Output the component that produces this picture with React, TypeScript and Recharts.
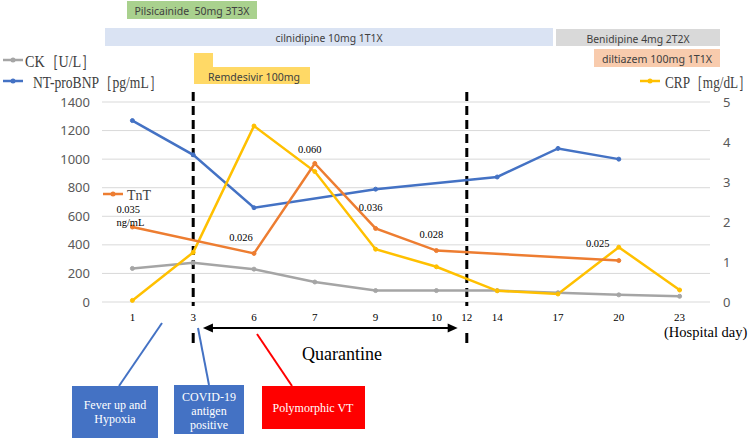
import React from 'react';
import { LineChart, Line, XAxis, YAxis, CartesianGrid, ReferenceLine, LabelList } from 'recharts';

// hospital days shown as categories on the x axis
const days = ['1', '3', '6', '7', '9', '10', '14', '17', '20', '23'];
const quarantineStartDay = '3';
const quarantineEndDay = '12'; // falls between day 10 and day 14

// left axis (CK, NT-proBNP, TnT drawn on the same scale)
const ck = [235, 275, 230, 140, 80, 80, 80, 65, 50, 40];
const ntProBnp = [1270, 1030, 660, null, 790, null, 875, 1075, 1000, null];
const tnt = [525, null, 340, 970, 515, 360, null, null, 290, null];
const tntLabels = ['0.035', null, '0.026', '0.060', '0.036', '0.028', null, null, '0.025', null];

// right axis
const crp = [0.04, 1.24, 4.4, 3.26, 1.32, 0.88, 0.28, 0.2, 1.37, 0.3];

const leftTicks = [0, 200, 400, 600, 800, 1000, 1200, 1400];
const rightTicks = [0, 1, 2, 3, 4, 5];

const startPos = days.indexOf(quarantineStartDay);
const endPos = (days.indexOf('10') + days.indexOf('14')) / 2;
const xTicks = [...days.map((_, i) => i), endPos].sort((a, b) => a - b);

const data = days.map((d, i) => ({
  pos: i,
  day: d,
  ck: ck[i],
  bnp: ntProBnp[i],
  tnt: tnt[i],
  tntLabel: tntLabels[i],
  crp: crp[i],
}));

const COLORS = {
  ck: '#a5a5a5',
  bnp: '#4472c4',
  tnt: '#ed7d31',
  crp: '#ffc000',
};

const SERIF = '"Liberation Serif", "Times New Roman", serif';
const SANS = '"Noto Sans", "Liberation Sans", sans-serif';

// label placement relative to each TnT point
const tntLabelOffset: Record<string, [number, number]> = {
  '0.026': [-13, -16],
  '0.060': [-5, -14],
  '0.036': [-5, -21],
  '0.028': [-5, -16],
  '0.025': [-21, -17],
};

const TntLabel = (props: any) => {
  const { x, y, value } = props;
  if (!value) return null;
  if (value === '0.035') {
    return (
      <g fontFamily={SERIF} fontSize={10.5} fill="#000">
        <text x={x - 16} y={y - 18} dominantBaseline="central">{value}</text>
        <text x={x - 16} y={y - 5} dominantBaseline="central">ng/mL</text>
      </g>
    );
  }
  const [dx, dy] = tntLabelOffset[value] ?? [0, -14];
  return (
    <text x={x + dx} y={y + dy} textAnchor="middle" dominantBaseline="central"
      fontFamily={SERIF} fontSize={10.5} fill="#000">
      {value}
    </text>
  );
};

const DashedMarker = (p: any) => {
  const top = Math.min(p.y1, p.y2);
  const bottom = Math.max(p.y1, p.y2);
  return (
    <g>
      <line x1={p.x1} x2={p.x1} y1={top - 10} y2={bottom + 4} stroke="#000" strokeWidth={3} strokeDasharray="9 5" />
      <line x1={p.x1} x2={p.x1} y1={bottom + 31} y2={bottom + 41} stroke="#000" strokeWidth={3} />
    </g>
  );
};

const DoubleArrow = (p: any) => {
  const xa = Math.min(p.x1, p.x2);
  const xb = Math.max(p.x1, p.x2);
  const y = p.y1;
  return (
    <g>
      <line x1={xa + 6} x2={xb - 6} y1={y} y2={y} stroke="#000" strokeWidth={2.2} />
      <polygon points={`${xa},${y} ${xa + 10},${y - 4.5} ${xa + 10},${y + 4.5}`} fill="#000" />
      <polygon points={`${xb},${y} ${xb - 10},${y - 4.5} ${xb - 10},${y + 4.5}`} fill="#000" />
    </g>
  );
};

const LegendMark = ({ x, y, color }: { x: number; y: number; color: string }) => (
  <g>
    <line x1={x} x2={x + 20} y1={y} y2={y} stroke={color} strokeWidth={2.5} />
    <circle cx={x + 10} cy={y} r={2.5} fill={color} />
  </g>
);

// legend text squeezed horizontally like the source figure
const LegendText = ({ x, y, w, size = 17, children }: any) => (
  <text transform={`translate(${x},${y}) scale(0.8,1)`} dominantBaseline="central" fontFamily={SERIF}
    fontSize={size} fill="#404040" textLength={w / 0.8} lengthAdjust="spacingAndGlyphs">
    {children}
  </text>
);

const DrugBox = ({ x, y, w, h, fill, label, tl }: any) => (
  <g>
    <rect x={x} y={y} width={w} height={h} fill={fill} />
    <text x={x + w / 2} y={y + h / 2 + 0.5} textAnchor="middle" dominantBaseline="central"
      fontFamily={SANS} fontSize={11} fill="#404040" textLength={tl} lengthAdjust="spacingAndGlyphs"
      style={{ whiteSpace: 'pre' }}>
      {label}
    </text>
  </g>
);

const Overlay = () => (
  <svg width={756} height={438} style={{ position: 'absolute', left: 0, top: 0, pointerEvents: 'none' }}>
    {/* medication bars */}
    <DrugBox x={127} y={1} w={130} h={18} fill="#a9d18e" label="Pilsicainide  50mg 3T3X" tl={115} />
    <DrugBox x={105} y={28} w={448} h={18} fill="#dae3f3" label="cilnidipine 10mg 1T1X" tl={107} />
    <DrugBox x={556} y={29} w={164} h={17} fill="#d9d9d9" label="Benidipine 4mg 2T2X" tl={103} />
    <DrugBox x={594} y={49} w={126} h={18} fill="#f8cbad" label="diltiazem 100mg 1T1X" tl={110} />
    <polygon points="194,53 213,53 213,67 310,67 310,84 194,84" fill="#ffd966" />
    <text x={254} y={76} textAnchor="middle" dominantBaseline="central" fontFamily={SANS} fontSize={11}
      fill="#404040" textLength={92} lengthAdjust="spacingAndGlyphs">Remdesivir 100mg</text>

    {/* legend */}
    <LegendMark x={3} y={60} color={COLORS.ck} />
    <LegendText x={25} y={61} w={70}>CK［U/L］</LegendText>
    <LegendMark x={3} y={81} color={COLORS.bnp} />
    <LegendText x={33} y={82} w={129}>NT-proBNP［pg/mL］</LegendText>
    <LegendMark x={640} y={81} color={COLORS.crp} />
    <LegendText x={665} y={82} w={86}>CRP［mg/dL］</LegendText>
    <LegendMark x={103} y={194} color={COLORS.tnt} />
    <LegendText x={127} y={195} w={24} size={15}>TnT</LegendText>

    {/* axis captions */}
    <text x={342} y={354} textAnchor="middle" dominantBaseline="central" fontFamily={SERIF} fontSize={18} fill="#000">Quarantine</text>
    <text x={664} y={332} dominantBaseline="central" fontFamily={SERIF} fontSize={14.5} fill="#000">(Hospital day)</text>

    {/* event callouts */}
    <line x1={162} y1={323} x2={119} y2={386} stroke="#4472c4" strokeWidth={2} />
    <line x1={198} y1={328} x2={209} y2={385} stroke="#4472c4" strokeWidth={2} />
    <line x1={257} y1={334} x2={292} y2={386} stroke="#ff0000" strokeWidth={2} />

    <rect x={72} y={386} width={86} height={52} fill="#4472c4" />
    <g fontFamily={SERIF} fontSize={12} fill="#fff" textAnchor="middle" dominantBaseline="central">
      <text x={115} y={405}>Fever up and</text>
      <text x={115} y={419}>Hypoxia</text>
    </g>
    <rect x={174} y={385} width={70} height={49} fill="#4472c4" />
    <g fontFamily={SERIF} fontSize={12} fill="#fff" textAnchor="middle" dominantBaseline="central">
      <text x={209} y={397}>COVID-19</text>
      <text x={209} y={411}>antigen</text>
      <text x={209} y={425}>positive</text>
    </g>
    <rect x={262} y={386} width={103} height={43} fill="#ff0000" />
    <text x={313} y={408} textAnchor="middle" dominantBaseline="central" fontFamily={SERIF} fontSize={12} fill="#fff">
      Polymorphic VT
    </text>
  </svg>
);

export default function App() {
  const fmtDay = (v: number) => (v === endPos ? quarantineEndDay : days[v] ?? '');

  return (
    <div style={{ position: 'absolute', left: 0, top: 0, width: 756, height: 438, background: '#fff' }}>
      <LineChart width={756} height={438} data={data} margin={{ top: 102, right: 16, bottom: 106, left: 42 }}>
        <CartesianGrid yAxisId="left" horizontal vertical={false} stroke="#d9d9d9" strokeWidth={1} />
        <XAxis
          dataKey="pos"
          type="number"
          domain={[-0.5, days.length - 0.5]}
          ticks={xTicks}
          interval={0}
          tickFormatter={fmtDay}
          height={30}
          axisLine={false}
          tickLine={false}
          tickMargin={5}
          tick={{ fontFamily: SERIF, fontSize: 11, fill: '#000' }}
        />
        <YAxis
          yAxisId="left"
          domain={[0, 1400]}
          ticks={leftTicks}
          width={60}
          axisLine={false}
          tickLine={false}
          tickMargin={6}
          tick={{ fontFamily: SANS, fontSize: 13, fill: '#595959' }}
        />
        <YAxis
          yAxisId="right"
          orientation="right"
          domain={[0, 5]}
          ticks={rightTicks}
          width={30}
          axisLine={false}
          tickLine={false}
          tickMargin={7}
          tick={{ fontFamily: SANS, fontSize: 13, fill: '#595959' }}
        />

        <ReferenceLine yAxisId="left" x={startPos} shape={DashedMarker} />
        <ReferenceLine yAxisId="left" x={endPos} shape={DashedMarker} />
        <ReferenceLine
          yAxisId="left"
          ifOverflow="visible"
          segment={[{ x: startPos + 0.16, y: -182 }, { x: endPos - 0.15, y: -182 }]}
          shape={DoubleArrow}
        />

        <Line yAxisId="left" dataKey="ck" stroke={COLORS.ck} strokeWidth={2.5} connectNulls
          dot={{ r: 2, fill: COLORS.ck, stroke: COLORS.ck, strokeWidth: 1 }} isAnimationActive={false} />
        <Line yAxisId="left" dataKey="bnp" stroke={COLORS.bnp} strokeWidth={2.5} connectNulls
          dot={{ r: 2, fill: COLORS.bnp, stroke: COLORS.bnp, strokeWidth: 1 }} isAnimationActive={false} />
        <Line yAxisId="right" dataKey="crp" stroke={COLORS.crp} strokeWidth={2.5} connectNulls
          dot={{ r: 2, fill: COLORS.crp, stroke: COLORS.crp, strokeWidth: 1 }} isAnimationActive={false} />
        <Line yAxisId="left" dataKey="tnt" stroke={COLORS.tnt} strokeWidth={2.5} connectNulls
          dot={{ r: 2, fill: COLORS.tnt, stroke: COLORS.tnt, strokeWidth: 1 }} isAnimationActive={false}>
          <LabelList dataKey="tntLabel" content={TntLabel} />
        </Line>
      </LineChart>
      <Overlay />
    </div>
  );
}
